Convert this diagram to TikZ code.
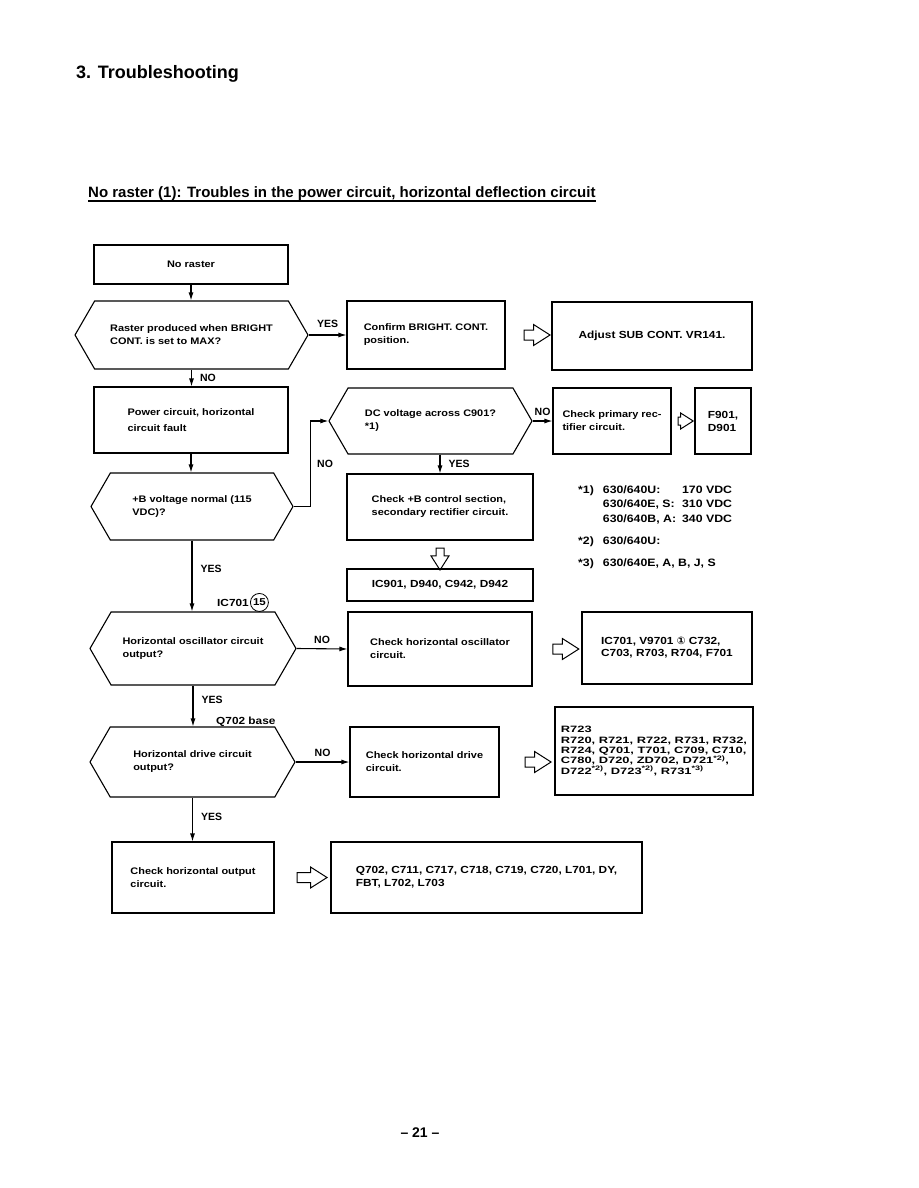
\documentclass[tikz,border=0pt]{standalone}
\usepackage{fontspec}
\setmainfont{Liberation Sans}
\newfontfamily\chartfont{Liberation Sans}[FakeStretch=1.15]
\newfontfamily\widefont{Liberation Sans}[FakeStretch=1.4]
\newfontfamily\symfont{DejaVu Sans}
\usetikzlibrary{shapes.symbols,shapes.arrows,arrows.meta,positioning}
\newcommand\fnref[1]{\smash{\textsuperscript{*#1)}}}

\begin{document}
\begin{tikzpicture}[x=1pt,y=-1pt,
  every node/.style={font=\chartfont\bfseries\fontsize{9.5}{13}\selectfont},
  box/.style={draw,line width=1.1pt,inner sep=0pt,align=left},
  decision/.style={draw,line width=1.1pt,signal,signal to=west and east,
                   signal pointer angle=120,inner sep=0pt,align=left},
  parts/.style={box,font=\chartfont\bfseries\fontsize{10.3}{13}\selectfont},
  hollow/.style={draw,line width=1pt,single arrow,single arrow tip angle=65,
                 single arrow head extend=5.5pt,inner sep=4.5pt,minimum height=26pt},
  flow/.style={line width=1.1pt,-{Latex[length=8pt,width=5pt]}},
  lbl/.style={font=\normalfont\bfseries\fontsize{10.5}{12}\selectfont,inner sep=2pt},
]
\fill[white] (0,0) rectangle (918,1188);
\useasboundingbox (0,0) rectangle (918,1188);

% headings
\node[anchor=base west,inner sep=0pt,font=\normalfont\bfseries\fontsize{18}{22}\selectfont]
  (title) at (76,79) {3. Troubleshooting};
\node[anchor=base west,inner sep=0pt,font=\normalfont\bfseries\fontsize{15}{18}\selectfont]
  (subtitle) at (88,197) {No raster (1): Troubles in the power circuit, horizontal deflection circuit};
\draw[line width=1.3pt] ([yshift=-4pt]subtitle.base west) -- ([yshift=-4pt]subtitle.base east);

% left column
\node[box,minimum width=194pt,minimum height=39pt] (noraster) at (191,264.5) {No raster};
\node[decision,minimum width=233pt,minimum height=68pt] (q1) at (191.5,335)
  {Raster produced when BRIGHT\\CONT. is set to MAX?};
\node[box,minimum width=194pt,minimum height=66pt] (power) at (191,420)
  {Power circuit, horizontal\\[3pt]circuit fault};
\node[decision,minimum width=202pt,minimum height=67pt] (q2) at (192,506.5)
  {+B voltage normal (115\\VDC)?};
\node[decision,minimum width=206pt,minimum height=73pt] (q4) at (193,648.5)
  {Horizontal oscillator circuit\\output?};
\node[decision,minimum width=205pt,minimum height=70pt] (q5) at (192.5,762)
  {Horizontal drive circuit\\output?};
\node[box,minimum width=162pt,minimum height=71pt] (output) at (193,877.5)
  {Check horizontal output\\circuit.};

% middle column
\node[box,minimum width=158pt,minimum height=68pt] (confirm) at (426,335)
  {Confirm BRIGHT. CONT.\\position.};
\node[decision,minimum width=203pt,minimum height=66pt] (q3) at (430.5,421)
  {DC voltage across C901?\\*1)};
\node[box,minimum width=186pt,minimum height=66pt] (checkb) at (440,507)
  {Check +B control section,\\secondary rectifier circuit.};
\node[parts,minimum width=186pt,minimum height=32pt] (icbox) at (440,585)
  {IC901, D940, C942, D942};
\node[box,minimum width=184pt,minimum height=74pt] (osc) at (440,649)
  {Check horizontal oscillator\\circuit.};
\node[box,minimum width=149pt,minimum height=70pt] (drive) at (424.5,762)
  {Check horizontal drive\\circuit.};
\node[parts,minimum width=311pt,minimum height=71pt] (outparts) at (486.5,877.5)
  {Q702, C711, C717, C718, C719, C720, L701, DY,\\FBT, L702, L703};

% right column
\node[parts,minimum width=200pt,minimum height=68pt] (adjust) at (652,336)
  {Adjust SUB CONT. VR141.};
\node[box,minimum width=118pt,minimum height=66pt] (primary) at (612,421)
  {Check primary rec-\\tifier circuit.};
\node[parts,minimum width=56pt,minimum height=66pt] (fuse) at (723,421) {F901,\\D901};
\node[parts,minimum width=170pt,minimum height=72pt,
      font=\chartfont\bfseries\fontsize{10.3}{12}\selectfont] (oscparts) at (667,648)
  {IC701, V9701 {\symfont ①} C732,\\C703, R703, R704, F701};
\node[parts,minimum width=198pt,minimum height=88pt,
      font=\widefont\bfseries\fontsize{9.2}{10.4}\selectfont] (driveparts) at (654,751)
  {R723\\R720, R721, R722, R731, R732,\\R724, Q701, T701, C709, C710,\\
   C780, D720, ZD702, D721\fnref{2},\\
   D722\fnref{2}, D723\fnref{2}, R731\fnref{3}};

% notes
\node[anchor=base west,inner sep=0pt,font=\chartfont\bfseries\fontsize{10.7}{14.5}\selectfont]
  (notes) at (578,493)
  {\begin{tabular}[t]{@{}l@{\hspace{9pt}}l@{\hspace{6pt}}l@{}}
   *1) & 630/640U: & 170 VDC\\
       & 630/640E, S: & 310 VDC\\
       & 630/640B, A: & 340 VDC\\[7.5pt]
   *2) & 630/640U: & \\[7.5pt]
   *3) & \multicolumn{2}{@{}l@{}}{630/640E, A, B, J, S}
   \end{tabular}};

% flow lines
\draw[flow] (noraster.south) -- (noraster.south |- q1.north);
\draw[flow] (q1.east) -- node[lbl,above=5pt]{YES} (confirm.west);
\draw[flow] (q1.south) -- node[lbl,right=6pt]{NO} (q1.south |- power.north);
\draw[flow] (power.south) -- (power.south |- q2.north);
\draw[flow] (q2.east) -- ++(17,0) |- node[lbl,pos=0.25,right=4pt]{NO} (q3.west);
\draw[flow] (q3.east) -- node[lbl,above=3pt]{NO} (primary.west);
\draw[flow] (checkb.north |- q3.south) -- node[lbl,right=6pt]{YES} (checkb.north);
\draw[flow] (q2.south) -- node[lbl,pos=0.4,right=6pt]{YES} (q2.south |- q4.north);
\draw[flow] (q4.east) -- node[lbl,above=3pt]{NO} (osc.west);
\draw[flow] (q4.south) -- node[lbl,pos=0.35,right=6pt]{YES} (q4.south |- q5.north);
\draw[flow] (q5.east) -- node[lbl,above=3pt]{NO} (drive.west);
\draw[flow] (q5.south) -- node[lbl,pos=0.45,right=6pt]{YES} (q5.south |- output.north);

% test point labels
\node[anchor=base west,inner sep=0pt,font=\chartfont\bfseries\fontsize{10.3}{12}\selectfont]
  (iclbl) at (217,606) {IC701};
\node[circle,draw,line width=0.8pt,inner sep=0pt,minimum size=18pt,
      font=\chartfont\bfseries\fontsize{10}{11}\selectfont,right=1pt of iclbl] (pin15) {15};
\node[anchor=base west,inner sep=0pt,font=\chartfont\bfseries\fontsize{10.3}{12}\selectfont]
  (qlbl) at (216,724) {Q702 base};

% hollow arrows
\path (confirm.east) -- node[hollow,pos=0.6] (ha1) {} (confirm.east -| adjust.west);
\path (primary.east) -- node[hollow,pos=0.48,minimum height=15pt,inner sep=3.5pt,
      single arrow head extend=4pt] (ha2) {} (primary.east -| fuse.west);
\path (checkb.south) -- node[hollow,pos=0.55,shape border rotate=270,minimum height=22pt,
      inner sep=3.5pt,single arrow head extend=5pt] (ha3) {} (checkb.south |- icbox.north);
\path (osc.east) -- node[hollow,pos=0.6] (ha4) {} (osc.east -| oscparts.west);
\path (drive.east) -- node[hollow,pos=0.63] (ha5) {} (drive.east -| driveparts.west);
\path (output.east) -- node[hollow,pos=0.6,minimum height=30pt] (ha6) {} (output.east -| outparts.west);

% page number
\node[anchor=base,inner sep=0pt,font=\normalfont\bfseries\fontsize{14}{16}\selectfont]
  (pageno) at (420,1137) {-- 21 --};
\end{tikzpicture}
\end{document}
